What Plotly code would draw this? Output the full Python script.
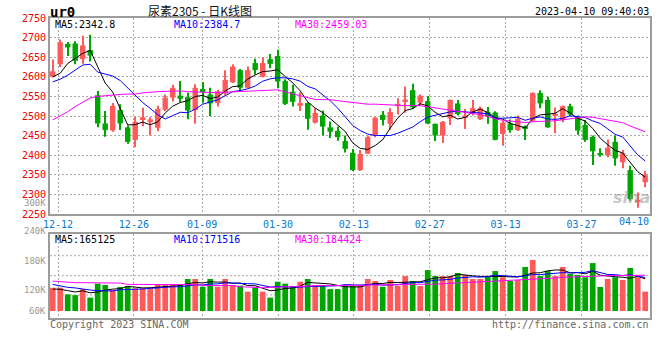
import pandas as pd
import plotly.graph_objects as go

# ---------------- data ----------------
symbol = "ur0"
title_text = "尿素2305 - 日K线图"
stamp_text = "2023-04-10 09:40:03"

x_labels = ["12-12", "12-26", "01-09", "01-30", "02-13", "02-27", "03-13", "03-27", "04-10"]
label_idx = [1, 11, 20, 30, 40, 50, 60, 70, 79]

opens = [2601, 2632, 2684, 2685, 2645, 2668, 2553, 2481, 2463, 2515,
         2471, 2439, 2492, 2485, 2470, 2516, 2547, 2552, 2548, 2515,
         2569, 2555, 2533, 2557, 2586, 2617, 2572, 2635, 2600, 2645,
         2653, 2589, 2562, 2526, 2533, 2483, 2501, 2471, 2462, 2436,
         2406, 2362, 2404, 2449, 2503, 2480, 2526, 2537, 2566, 2534,
         2538, 2480, 2450, 2494, 2532, 2495, 2507, 2492, 2511, 2509,
         2454, 2481, 2464, 2474, 2488, 2559, 2541, 2500, 2490, 2525,
         2499, 2477, 2447, 2405, 2400, 2434, 2382, 2362, 2281, 2331]
highs = [2644, 2695, 2689, 2691, 2705, 2707, 2564, 2513, 2533, 2530,
         2476, 2498, 2521, 2497, 2526, 2555, 2580, 2589, 2559, 2581,
         2587, 2572, 2567, 2617, 2632, 2620, 2626, 2646, 2650, 2658,
         2669, 2594, 2580, 2560, 2535, 2520, 2514, 2486, 2473, 2450,
         2416, 2413, 2450, 2497, 2513, 2520, 2545, 2575, 2582, 2555,
         2551, 2481, 2487, 2542, 2541, 2518, 2541, 2524, 2523, 2512,
         2487, 2491, 2501, 2476, 2560, 2566, 2549, 2522, 2527, 2531,
         2501, 2490, 2450, 2418, 2440, 2450, 2413, 2373, 2305, 2360]
lows = [2598, 2625, 2653, 2632, 2633, 2639, 2471, 2447, 2460, 2464,
        2429, 2420, 2474, 2450, 2461, 2512, 2537, 2536, 2492, 2480,
        2534, 2500, 2524, 2552, 2584, 2563, 2570, 2606, 2598, 2622,
        2571, 2528, 2524, 2513, 2465, 2481, 2450, 2444, 2437, 2407,
        2360, 2360, 2403, 2446, 2476, 2465, 2504, 2508, 2518, 2526,
        2479, 2436, 2431, 2477, 2501, 2467, 2501, 2490, 2480, 2438,
        2424, 2457, 2462, 2439, 2486, 2520, 2470, 2456, 2484, 2500,
        2452, 2434, 2375, 2396, 2395, 2373, 2367, 2284, 2266, 2318]
closes = [2614, 2688, 2675, 2641, 2680, 2654, 2481, 2464, 2526, 2481,
          2434, 2485, 2497, 2491, 2518, 2547, 2572, 2544, 2514, 2572,
          2561, 2532, 2563, 2592, 2626, 2572, 2617, 2617, 2635, 2633,
          2588, 2531, 2536, 2533, 2493, 2508, 2473, 2460, 2446, 2416,
          2362, 2403, 2446, 2496, 2490, 2510, 2531, 2542, 2522, 2552,
          2481, 2450, 2485, 2541, 2505, 2501, 2520, 2520, 2499, 2439,
          2483, 2464, 2493, 2467, 2559, 2532, 2471, 2506, 2525, 2504,
          2463, 2439, 2410, 2402, 2419, 2392, 2405, 2288, 2286, 2349]
volumes = [120000, 120000, 86000, 82000, 112000, 69000, 141000, 134000, 108000, 124000,
           129000, 117000, 117000, 113000, 139000, 134000, 134000, 134000, 165000, 165000,
           125000, 165000, 125000, 165000, 134000, 131000, 100000, 122000, 100000, 69000,
           151000, 141000, 129000, 151000, 165000, 134000, 134000, 113000, 113000, 131000,
           129000, 134000, 165000, 155000, 125000, 160000, 129000, 180000, 155000, 129000,
           211000, 180000, 180000, 180000, 196000, 186000, 165000, 165000, 180000, 206000,
           174000, 155000, 160000, 227000, 263000, 180000, 206000, 180000, 227000, 191000,
           186000, 174000, 247000, 124000, 165000, 174000, 160000, 222000, 174000, 100000]

# moving-average values at the start of the window (they depend on earlier sessions)
ma5_head = [2600, 2609, 2634, 2647]
ma10_head = [2587, 2594, 2604, 2617, 2630, 2632, 2612, 2607, 2602]
ma30_head = [2490, 2500, 2511, 2524, 2536, 2546, 2550, 2552, 2554, 2555,
             2556, 2556, 2559, 2561, 2562, 2563, 2564, 2564, 2562, 2561,
             2561, 2560, 2560, 2561, 2561, 2562, 2564, 2565, 2565]
vma5_head = [113000, 112000, 105000, 98000]
vma10_head = [137000, 129000, 122000, 119000, 113000, 108000, 105000, 103000, 103000]
vma30_head = [154000, 151000, 148000, 146000, 146000, 145000, 145000, 145000, 144000, 144000,
              137000, 137000, 137000, 137000, 137000, 137000, 137000, 137000, 136000, 136000,
              131000, 131000, 131000, 131000, 131000, 125000, 122000, 122000, 120000]

price_legend = ["MA5:2342.8", "MA10:2384.7", "MA30:2459.03"]
vol_legend = ["MA5:165125", "MA10:171516", "MA30:184424"]
vol_labels = ["300K", "240K", "180K", "120K", "60K"]
price_ticks = [2250, 2300, 2350, 2400, 2450, 2500, 2550, 2600, 2650, 2700, 2750]
footer_left = "Copyright 2023 SINA.COM"
footer_right = "http://finance.sina.com.cn"

# ---------------- styles ----------------
RED = "#ff5a5a"
GREEN = "#00a600"
MONO = "DejaVu Sans Mono"
GRID = "#aaaaaa"
FRAME = "#9c9c9c"
W, H = 660, 360
ML, MR, MT, MB = 50, 10, 18, 42
PW, PH = W - ML - MR, H - MT - MB
GRID_STRETCH, GRID_SHIFT = 1.0115, -0.3
MIN_BODY = 2.6


def px_x(px):
    return (px - ML) / PW


def px_y(py):
    return (MT + PH - py) / PH


def rolling(values, window, head):
    out = pd.Series(values, dtype=float).rolling(window).mean().tolist()
    for i, v in enumerate(head):
        out[i] = v
    return out


n = len(closes)
idx = list(range(n))
up = [c >= o for o, c in zip(opens, closes)]
colors = [RED if u else GREEN for u in up]
body_base = [min(o, c) for o, c in zip(opens, closes)]
body_h = [max(abs(c - o), MIN_BODY) for o, c in zip(opens, closes)]
wick_h = [h - l for h, l in zip(highs, lows)]

ma5 = rolling(closes, 5, ma5_head)
ma10 = rolling(closes, 10, ma10_head)
ma30 = rolling(closes, 30, ma30_head)
vma5 = rolling(volumes, 5, vma5_head)
vma10 = rolling(volumes, 10, vma10_head)
vma30 = rolling(volumes, 30, vma30_head)

fig = go.Figure()
fig.add_trace(go.Bar(x=idx, y=wick_h, base=lows, width=0.15, marker=dict(color=colors, line_width=0),
                     xaxis="x", yaxis="y", hoverinfo="skip"))
fig.add_trace(go.Bar(x=idx, y=body_h, base=body_base, width=0.72, marker=dict(color=colors, line_width=0),
                     xaxis="x", yaxis="y", hoverinfo="skip"))
for ser, col in [(ma5, "#000000"), (ma10, "#0000ff"), (ma30, "#ff00ff")]:
    fig.add_trace(go.Scatter(x=idx, y=ser, mode="lines", line=dict(color=col, width=1),
                             xaxis="x", yaxis="y", hoverinfo="skip"))
fig.add_trace(go.Bar(x=idx, y=volumes, width=0.76, marker=dict(color=colors, line_width=0),
                     xaxis="x2", yaxis="y2", hoverinfo="skip"))
for ser, col in [(vma5, "#000000"), (vma10, "#0000ff"), (vma30, "#ff00ff")]:
    fig.add_trace(go.Scatter(x=idx, y=ser, mode="lines", line=dict(color=col, width=1),
                             xaxis="x2", yaxis="y2", hoverinfo="skip"))

tick_pos = [i * GRID_STRETCH + GRID_SHIFT for i in label_idx[:-1]]
xr = [-0.36, n - 0.36]
vol_px_per_unit = 0.194 / 1000
vol_range = [-(MT + PH - 311) / vol_px_per_unit, (311 - 234.3) / vol_px_per_unit]
price_dom = [px_y(214), 1.0]
vol_dom = [0.0, px_y(234.3)]

common_x = dict(range=xr, tickvals=tick_pos, showgrid=True, gridcolor=GRID, griddash="2px,2px",
                gridwidth=1, zeroline=False, showline=True, linecolor=FRAME, linewidth=2,
                mirror=True, ticks="", fixedrange=True, automargin=False)
fig.update_layout(
    width=W, height=H, margin=dict(l=ML, r=MR, t=MT, b=MB, autoexpand=False),
    paper_bgcolor="white", plot_bgcolor="white", showlegend=False, barmode="overlay",
    xaxis=dict(**common_x, anchor="y", ticktext=x_labels[:-1],
               tickfont=dict(family=MONO, size=10, color="#0a78d2")),
    yaxis=dict(domain=price_dom, range=[price_ticks[0], price_ticks[-1]], tickvals=price_ticks,
               tickfont=dict(family=MONO, size=10, color="#ee0000"), showgrid=True, gridcolor=GRID,
               griddash="2px,2px", zeroline=False, showline=True, linecolor=FRAME, linewidth=2,
               mirror=True, ticks="", anchor="x", automargin=False, fixedrange=True),
    xaxis2=dict(**common_x, anchor="y2", matches="x", showticklabels=False),
    yaxis2=dict(domain=vol_dom, range=vol_range, showticklabels=False, showgrid=False,
                zeroline=False, showline=True, linecolor=FRAME, linewidth=2, mirror=True,
                ticks="", anchor="x2", automargin=False, fixedrange=True),
)

# volume panel horizontal grid
for py in [255.7, 275.7, 295.0]:
    f = (318 - py) / (318 - 234.3)
    fig.add_shape(type="line", xref="x2 domain", yref="y2 domain", x0=0, x1=1, y0=f, y1=f,
                  line=dict(color=GRID, width=1, dash="2px,2px"), layer="below")

ann = []


def text(s, px, py, color, size=10, anchor="left", family=MONO):
    ann.append(dict(text=s, x=px_x(px), y=px_y(py), xref="paper", yref="paper",
                    xanchor=anchor, yanchor="middle", showarrow=False, borderpad=0,
                    font=dict(family=family, size=size, color=color)))


text("<b>" + symbol + "</b>", 49, 12, "#000000", size=14)
text(title_text, 200, 11, "#111111", size=12, anchor="center", family="Noto Sans CJK SC")
text(stamp_text, 650, 12, "#000000", anchor="right")
for s, px, col in zip(price_legend, [54, 173, 294], ["#000000", "#0000ff", "#ff00ff"]):
    text(s, px, 24, col)
for s, px, col in zip(vol_legend, [54, 173, 294], ["#000000", "#0000ff", "#ff00ff"]):
    text(s, px, 239, col)
for s, py in zip(vol_labels, [203, 231, 261, 290, 311]):
    text(s, 47, py, "#999999", size=9, anchor="right")
text(x_labels[-1], 650, 222, "#0a78d2", anchor="right")
text(footer_left, 49, 324, "#666666")
text(footer_right, 650, 324, "#666666", anchor="right")
text("<b><i>sina</i></b>", 651, 197, "rgba(150,150,150,0.55)", size=16, anchor="right",
     family="DejaVu Sans")
fig.update_layout(annotations=ann)

fig.write_html("out.html", config={"displayModeBar": False},
               post_script="document.body.style.margin='0';document.body.style.padding='0';")
